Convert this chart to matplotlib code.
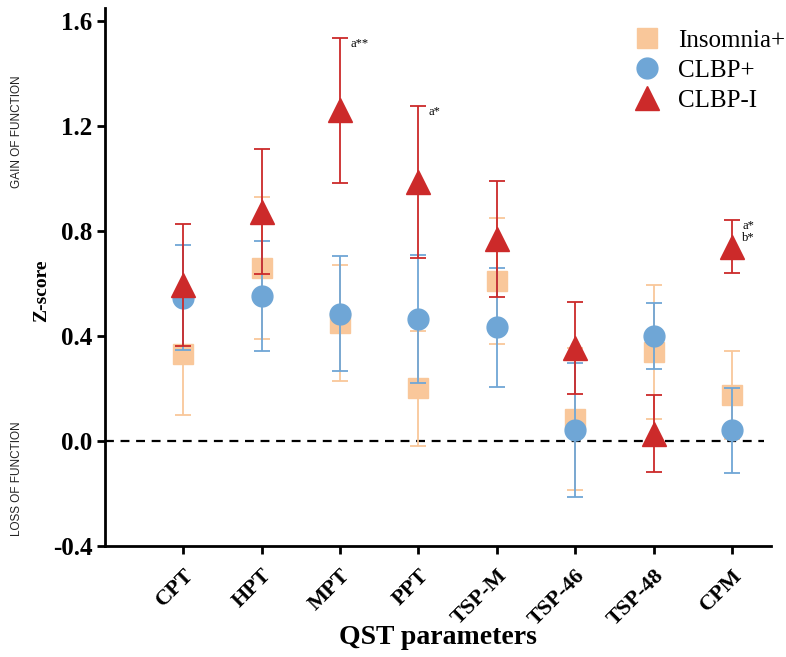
import numpy as np
import matplotlib
matplotlib.use("Agg")
import matplotlib.pyplot as plt
from matplotlib.lines import Line2D

params = ["CPT", "HPT", "MPT", "PPT", "TSP-M", "TSP-46", "TSP-48", "CPM"]

# mean z-scores and error half-widths per group
insomnia_mean = [0.33, 0.66, 0.45, 0.20, 0.61, 0.085, 0.34, 0.175]
insomnia_err = [0.23, 0.27, 0.22, 0.22, 0.24, 0.27, 0.255, 0.168]
clbp_mean = [0.545, 0.553, 0.485, 0.465, 0.433, 0.042, 0.40, 0.04]
clbp_err = [0.20, 0.21, 0.22, 0.245, 0.227, 0.255, 0.127, 0.162]
clbpi_mean = [0.594, 0.873, 1.26, 0.987, 0.77, 0.355, 0.027, 0.74]
clbpi_err = [0.232, 0.238, 0.276, 0.29, 0.22, 0.175, 0.147, 0.10]

# significance marks: (parameter index, text)
sig_marks = [(2, "a**"), (3, "a*"), (7, "a*\nb*")]

serif = "Liberation Serif"
x = np.arange(1, len(params) + 1)

fig = plt.figure(figsize=(7.86, 6.57), dpi=100)
ax = fig.add_axes([0.1336, 0.169, 0.8474, 0.819])

c_ins = "#f9c79a"
c_clbp = "#6fa6d6"
c_clbpi = "#cc2a2a"

groups = [
    ("Insomnia+", insomnia_mean, insomnia_err, "s", 14, c_ins),
    ("CLBP+", clbp_mean, clbp_err, "o", 15, c_clbp),
    ("CLBP-I", clbpi_mean, clbpi_err, "^", 17, c_clbpi),
]
handles = []
for z, (name, m, e, mk, ms, col) in enumerate(groups):
    ax.errorbar(x, m, yerr=e, fmt=mk, ms=ms, color=col, ecolor=col,
                elinewidth=1.3, capsize=6, capthick=1.3, zorder=2 + z)
    handles.append(Line2D([], [], ls="none", marker=mk, ms=ms, color=col,
                          label=name))

for i, txt in sig_marks:
    top = clbpi_mean[i] + clbpi_err[i]
    ax.text(x[i] + 0.13, top, txt, fontsize=9, family=serif, ha="left",
            va="top", linespacing=0.95)

ax.axhline(0, xmin=0, xmax=0.99, color="black", ls=(0, (4, 3)), lw=1.6, zorder=1)

ax.set_xlim(0, 8.5)
ax.set_ylim(-0.4, 1.65)
ax.set_yticks([-0.4, 0.0, 0.4, 0.8, 1.2, 1.6])
ax.set_yticklabels(["-0.4", "0.0", "0.4", "0.8", "1.2", "1.6"],
                   family=serif, fontweight="bold", fontsize=18)
ax.set_xticks(x)
ax.set_xticklabels(params, rotation=45, ha="right", rotation_mode="anchor",
                   family=serif, fontweight="bold", fontsize=16)
ax.tick_params(axis="both", width=2, length=6, direction="out")
ax.tick_params(axis="x", pad=8)
ax.tick_params(axis="y", pad=3)

for s in ["top", "right"]:
    ax.spines[s].set_visible(False)
for s in ["left", "bottom"]:
    ax.spines[s].set_linewidth(2)

ax.set_xlabel("QST parameters", family=serif, fontweight="bold", fontsize=20,
              labelpad=-3)
fig.text(0.053, 0.558, "Z-score", rotation=90, family=serif,
         fontweight="bold", fontsize=14, ha="center", va="center")
fig.text(0.022, 0.80, "GAIN OF FUNCTION", rotation=90, family="Liberation Sans",
         fontsize=8.5, ha="center", va="center", color="#222222")
fig.text(0.022, 0.272, "LOSS OF FUNCTION", rotation=90, family="Liberation Sans",
         fontsize=8.5, ha="center", va="center", color="#222222")

fig.legend(handles=handles, loc="upper right", bbox_to_anchor=(1.028, 0.99),
           frameon=False, prop={"family": serif, "size": 18},
           handletextpad=0.5, labelspacing=0.3, handlelength=1.5)

fig.savefig("out.png", dpi=100)
